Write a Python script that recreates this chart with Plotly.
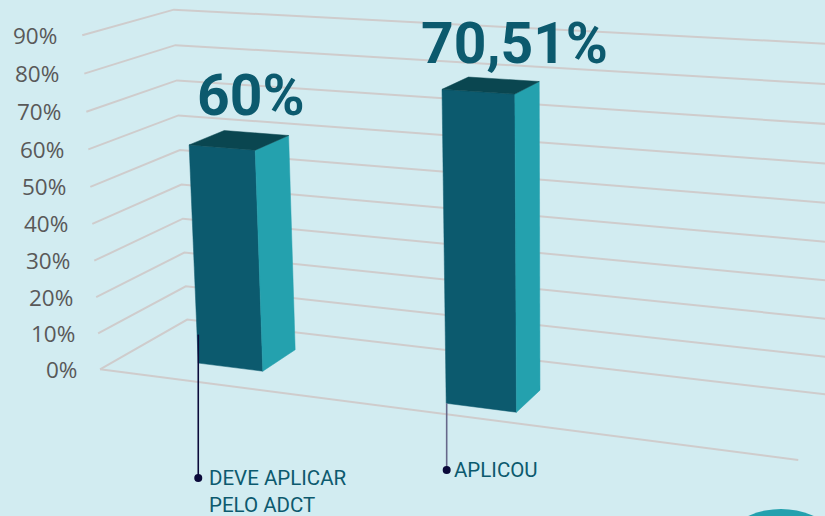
import numpy as np
import plotly.graph_objects as go

# ---- data ----
categories = ["DEVE APLICAR<br>PELO ADCT", "APLICOU"]
bar_labels = ["60%", "70,51%"]
bar_heights = [60, 80.5]          # drawn height read against the axis grid
tick_values = [0, 10, 20, 30, 40, 50, 60, 70, 80, 90]
tick_labels = ["0%", "10%", "20%", "30%", "40%", "50%", "60%", "70%", "80%", "90%"]

# ---- styles ----
BG = "#D2ECF1"
GRID = "#CFCCCC"
FRONT = "#0C5A6E"
SIDE = "#24A1AE"
TOP = "#0A4650"
TICK = "#595959"
NAVY = "#0B0A3A"

# ---- bar footprint in chart space (0-1 across, 0-1 into depth) ----
bar_x0 = [0.118, 0.5145]
bar_x1 = [0.2215, 0.615]
bar_d0 = [0.290, 0.157]
bar_d1 = [0.700, 0.530]

# ---- perspective calibration: chart corners (x, depth, value) -> canvas ----
calib_world = [(0, 0, 0), (1, 0, 0), (0, 1, 0), (0, 1, 90), (0, 0, 90), (1, 1, 0), (1, 1, 90)]
calib_canvas = [(98.5, 370.5), (797, 461), (189, 318.7), (171, 11.5), (85, 33), (839, 394.6), (850, 45.2)]


def fit_camera():
    rows = []
    for (x, d, v), (u, w) in zip(calib_world, calib_canvas):
        m = [x, d, v / 90, 1]
        u, w = u / 500, w / 500
        rows.append(m + [0, 0, 0, 0] + [-u * c for c in m])
        rows.append([0, 0, 0, 0] + m + [-w * c for c in m])
    return np.linalg.svd(np.array(rows))[2][-1].reshape(3, 4)


CAM = fit_camera()


def project(x, d, v):
    p = CAM @ np.array([x, d, v / 90, 1.0])
    return 500 * p[0] / p[2], 500 * p[1] / p[2]


def path(points):
    pts = [project(*p) for p in points]
    return [q[0] for q in pts], [q[1] for q in pts]


fig = go.Figure()

# grid: left wall + back wall for each tick, then the floor's front edge
for v in tick_values:
    xs, ys = path([(0, 0, v), (0, 1, v), (1, 1, v)])
    fig.add_trace(go.Scatter(x=xs, y=ys, mode="lines", line=dict(color=GRID, width=2)))
xs, ys = path([(0, 0, 0), (1, 0, 0)])
fig.add_trace(go.Scatter(x=xs, y=ys, mode="lines", line=dict(color=GRID, width=2)))


def face(points, color):
    xs, ys = path(points + points[:1])
    fig.add_trace(go.Scatter(x=xs, y=ys, mode="lines", fill="toself", fillcolor=color,
                             line=dict(color=color, width=0.5)))


for x0, x1, d0, d1, h in zip(bar_x0, bar_x1, bar_d0, bar_d1, bar_heights):
    face([(x0, d0, 0), (x1, d0, 0), (x1, d0, h), (x0, d0, h)], FRONT)
    face([(x1, d0, 0), (x1, d1, 0), (x1, d1, h), (x1, d0, h)], SIDE)
    face([(x0, d0, h), (x1, d0, h), (x1, d1, h), (x0, d1, h)], TOP)

annotations = []

# axis labels, following the leaning left edge of the wall
for v, t in zip(tick_values, tick_labels):
    px, py = project(0, 0, v)
    annotations.append(dict(x=px - 21 - 2.5 * v / 90, y=py, text=t, xanchor="right", yanchor="middle",
                            showarrow=False, font=dict(family="Open Sans", size=22.5, color=TICK)))

# value labels above the bars
label_offset = [(11.5, -45), (23, -42)]
for x0, x1, d0, d1, h, t, off in zip(bar_x0, bar_x1, bar_d0, bar_d1, bar_heights, bar_labels, label_offset):
    px, py = project((x0 + x1) / 2, (d0 + d1) / 2, h)
    annotations.append(dict(x=px + off[0], y=py + off[1], text="<b>%s</b>" % t, xanchor="center", yanchor="middle",
                            showarrow=False, font=dict(family="Roboto", size=57, color=FRONT)))

# leader lines with dot and category name
leader_from = [8, 0]     # value on the bar's front-left edge where each line starts
leader_len = [(0, 478), (0.5, 470)]
leader_color = [NAVY, "#66688A"]
label_dy = [13, 0]
label_gap = [9, 5.5]
for x0, d0, lf, (dx, end), col, cat, ldy, gap in zip(bar_x0, bar_d0, leader_from, leader_len, leader_color,
                                                     categories, label_dy, label_gap):
    bx, by = project(x0, d0, 0)
    _, ty = project(x0, d0, lf)
    lx = bx + dx
    fig.add_trace(go.Scatter(x=[lx, lx], y=[ty, end], mode="lines", line=dict(color=col, width=1.6)))
    fig.add_trace(go.Scatter(x=[lx], y=[end], mode="markers", marker=dict(color=NAVY, size=8)))
    annotations.append(dict(x=lx + gap, y=end + ldy, text=cat, xanchor="left", yanchor="middle", align="left",
                            showarrow=False, font=dict(family="Roboto", size=20.5, color=FRONT)))

fig.update_layout(
    width=825, height=516,
    margin=dict(l=0, r=0, t=0, b=0),
    paper_bgcolor=BG, plot_bgcolor=BG,
    showlegend=False, hovermode=False,
    xaxis=dict(range=[0, 825], visible=False, fixedrange=True),
    yaxis=dict(range=[516, 0], visible=False, fixedrange=True),
    annotations=annotations,
    shapes=[dict(type="circle", xref="x", yref="y", x0=700, x1=862, y0=509, y1=671,
                 fillcolor=SIDE, line=dict(width=0), layer="below")],
)
fig.write_html("out.html", config={"displayModeBar": False},
               post_script="document.body.style.margin='0';document.body.style.overflow='hidden';")
